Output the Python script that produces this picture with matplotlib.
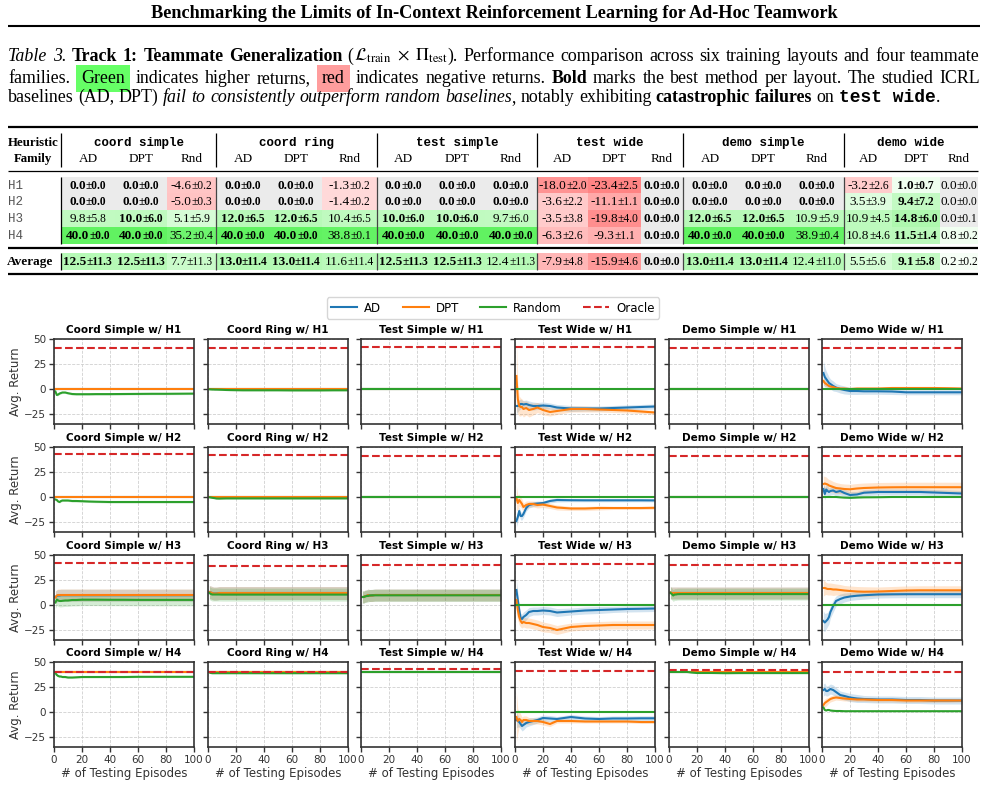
import numpy as np
import matplotlib
matplotlib.use("Agg")
import matplotlib.pyplot as plt
from matplotlib.lines import Line2D
from matplotlib.patches import Rectangle

plt.rcParams['mathtext.fontset'] = 'stix'
plt.rcParams['font.family'] = ['DejaVu Sans']

# ---------------------------------------------------------------- table data
TAB_LAYOUTS = ["coord simple", "coord ring", "test simple", "test wide", "demo simple", "demo wide"]
TAB_ROWS = ["H1", "H2", "H3", "H4"]
TAB_METHODS = ["AD", "DPT", "Rnd"]
TAB_AD_MEAN = [[0.0, 0.0, 9.8, 40.0], [0.0, 0.0, 12.0, 40.0], [0.0, 0.0, 10.0, 40.0],
               [-18.0, -3.6, -3.5, -6.3], [0.0, 0.0, 12.0, 40.0], [-3.2, 3.5, 10.9, 10.8]]
TAB_AD_STD = [[0.0, 0.0, 5.8, 0.0], [0.0, 0.0, 6.5, 0.0], [0.0, 0.0, 6.0, 0.0],
              [2.0, 2.2, 3.8, 2.6], [0.0, 0.0, 6.5, 0.0], [2.6, 3.9, 4.5, 4.6]]
TAB_DPT_MEAN = [[0.0, 0.0, 10.0, 40.0], [0.0, 0.0, 12.0, 40.0], [0.0, 0.0, 10.0, 40.0],
                [-23.4, -11.1, -19.8, -9.3], [0.0, 0.0, 12.0, 40.0], [1.0, 9.4, 14.8, 11.5]]
TAB_DPT_STD = [[0.0, 0.0, 6.0, 0.0], [0.0, 0.0, 6.5, 0.0], [0.0, 0.0, 6.0, 0.0],
               [2.5, 1.1, 4.0, 1.1], [0.0, 0.0, 6.5, 0.0], [0.7, 7.2, 6.0, 1.4]]
TAB_RND_MEAN = [[-4.6, -5.0, 5.1, 35.2], [-1.3, -1.4, 10.4, 38.8], [0.0, 0.0, 9.7, 40.0],
                [0.0, 0.0, 0.0, 0.0], [0.0, 0.0, 10.9, 38.9], [0.0, 0.0, 0.0, 0.8]]
TAB_RND_STD = [[0.2, 0.3, 5.9, 0.4], [0.2, 0.2, 6.5, 0.1], [0.0, 0.0, 6.0, 0.0],
               [0.0, 0.0, 0.0, 0.0], [0.0, 0.0, 5.9, 0.4], [0.0, 0.0, 0.1, 0.2]]
TAB_AVG_MEAN = [[12.5, 12.5, 7.7], [13.0, 13.0, 11.6], [12.5, 12.5, 12.4],
                [-7.9, -15.9, 0.0], [13.0, 13.0, 12.4], [5.5, 9.1, 0.2]]
TAB_AVG_STD = [[11.3, 11.3, 11.3], [11.4, 11.4, 11.4], [11.3, 11.3, 11.3],
               [4.8, 4.6, 0.0], [11.4, 11.4, 11.0], [5.6, 5.8, 0.2]]
# bold flags per layout: rows H1..H4, Average ; chars = AD, DPT, Rnd
TAB_BOLD = [["110", "110", "010", "110", "110"],
            ["110", "110", "110", "110", "110"],
            ["111", "111", "110", "111", "110"],
            ["001", "001", "001", "001", "001"],
            ["111", "111", "110", "110", "110"],
            ["010", "010", "010", "010", "010"]]

# ---------------------------------------------------------------- curve data
LAYOUTS = ["Coord Simple", "Coord Ring", "Test Simple", "Test Wide", "Demo Simple", "Demo Wide"]
FAMILIES = ["H1", "H2", "H3", "H4"]
EP = [1, 2, 3, 4, 5, 6, 8, 10, 13, 16, 20, 25, 30, 40, 50, 60, 70, 80, 90, 100]

ORACLE = [[41.3, 40.7, 41.7, 42.0, 40.7, 40.7],
          [42.7, 42.0, 40.7, 42.0, 40.7, 40.7],
          [41.7, 39.3, 39.7, 41.0, 40.3, 42.0],
          [40.3, 40.0, 42.7, 41.0, 41.7, 40.3]]

# ---- H1
AD_H1 = [0.0, 0.0, 0.0,
         [-17, -17, -16, -15, -15, -15.5, -15, -16, -17, -17, -16.5, -17, -18.5, -19.5, -19.5, -19.5, -19, -18.5, -18, -17.5],
         0.0,
         [16, 12, 10, 8, 6, 5, 3, 1.5, 0, -1, -2, -2, -2.3, -2.3, -2.5, -3.3, -3.3, -3.3, -3.3, -3.3]]
AD_H1_SD = [0.0, 0.0, 0.0,
            [8, 6, 5, 5, 4, 4, 4, 4, 4, 3.5, 3.5, 3, 3, 3, 2.5, 2.5, 2.5, 2.5, 2.5, 2.5],
            0.0,
            [12, 10, 8, 7, 6, 5, 5, 4, 4, 4, 3.5, 3.5, 3, 3, 3, 2.5, 2.5, 2.5, 2.5, 2.5]]
DPT_H1 = [0.0, 0.0, 0.0,
          [13, -10, -17, -18, -18, -20, -19, -21, -20, -18.5, -21, -23, -22, -20, -20, -20.5, -21, -21.5, -22.5, -23.5],
          0.0,
          [8, 6, 5, 4, 3, 2.5, 2, 1, 0.5, 0.5, 0, 0.5, 0.5, 0.5, 1, 1, 1, 1, 0.8, 0.5]]
DPT_H1_SD = [0.0, 0.0, 0.0,
             [35, 15, 10, 9, 8, 8, 7, 7, 6, 5, 5, 4, 3.5, 3, 3, 2.5, 2.5, 2.5, 2, 2],
             0.0,
             [4, 3, 3, 2, 2, 2, 1.5, 1.5, 1.5, 1, 1, 1, 1, 1, 1, 1, 1, 1, 1, 1]]
RND_H1 = [[-2.5, -6, -5.5, -4.5, -4, -3.5, -3.5, -4.2, -5, -5.2, -5.2, -5.2, -5.1, -5.1, -5.0, -4.9, -4.8, -4.8, -4.7, -4.6],
          [-0.3, -0.4, -0.5, -0.5, -0.6, -0.6, -0.7, -0.8, -1.0, -1.1, -1.2, -1.3, -1.3, -1.3, -1.3, -1.4, -1.4, -1.4, -1.3, -1.3],
          0.0, 0.0, 0.0, 0.0]
RND_H1_SD = [1.0, 0.5, 0.0, 0.0, 0.0, 0.0]

# ---- H2
AD_H2 = [0.0, 0.0, 0.0,
         [-24, -20, -14, -19, -19, -17, -11, -8, -7, -6.5, -6, -4, -3, -3.2, -3.3, -3.3, -3.3, -3.3, -3.3, -3.4],
         0.0,
         [8, 3, 7.5, 6, 5, 6, 6.5, 5, 6, 4, 2, 2.5, 4.3, 5, 5, 5, 5, 4.5, 4, 3.5]]
AD_H2_SD = [0.0, 0.0, 0.0,
            [6, 5, 4, 4, 4, 3.5, 3, 3, 2.5, 2.5, 2, 2, 2, 1.5, 1.5, 1.5, 1.5, 1.5, 1.5, 1.5],
            0.0,
            [6, 6, 5, 5, 4, 4, 4, 4, 4, 3.5, 3.5, 3, 3, 3, 3, 3, 3, 3, 3, 3]]
DPT_H2 = [0.0, 0.0, 0.0,
          [-1, -6, -3, -5, -7, -10, -8, -7, -7, -8, -7.5, -9, -10.5, -11.5, -11.5, -11, -11, -11, -11, -10.8],
          0.0,
          [13, 13.5, 13, 12.5, 11.5, 11, 10, 9, 8.5, 8, 7.7, 8.5, 9, 9.5, 9.7, 9.8, 9.8, 9.8, 9.8, 9.8]]
DPT_H2_SD = [0.0, 0.0, 0.0,
             [12, 8, 6, 5, 5, 4, 4, 3, 3, 3, 3, 2.5, 2.5, 2, 2, 2, 1.5, 1.5, 1.5, 1.5],
             0.0,
             [8, 7, 7, 6, 6, 6, 5.5, 5.5, 5, 5, 5, 5, 5, 5, 5, 5, 5, 5, 5, 5]]
RND_H2 = [[-2.5, -3, -4.5, -5, -4, -3.5, -3.5, -3.5, -4, -4, -4.2, -4.5, -4.7, -5, -5, -5, -5, -5, -5, -5],
          [-0.3, -0.5, -0.8, -1, -1.2, -1.5, -1.6, -1.5, -1.4, -1.4, -1.4, -1.4, -1.4, -1.4, -1.4, -1.4, -1.4, -1.4, -1.4, -1.4],
          0.0, 0.0, 0.0,
          [0, 0, 0, 0, 0, 0, 0, 0, -0.3, -0.6, -0.8, -0.5, -0.3, -0.2, 0, 0, 0, 0, 0, 0]]
RND_H2_SD = [1.0, 0.6, 0.0, 0.0, 0.0, 0.5]

# ---- H3
AD_H3 = [[8, 9, 9.5, 9.5, 9.8, 9.8, 9.8, 9.8, 9.8, 9.8, 9.8, 9.8, 9.8, 9.8, 9.8, 9.8, 9.8, 9.8, 9.8, 9.8],
         [13, 12.5, 12, 11.5, 11.5, 11.5, 12, 12, 12, 12, 12, 12, 12, 12, 12, 12, 12, 12, 12, 12],
         [8, 8, 9, 9, 10, 9.5, 9.5, 10, 10, 10, 10, 10, 10, 10, 10, 10, 10, 10, 10, 10],
         [15, 5, -5, -13, -14, -12, -10, -7, -6, -6, -5.5, -6, -7.5, -6.5, -5.5, -5, -4.5, -4, -3.8, -3.5],
         [12.5, 12, 12, 12, 12, 12, 12, 12, 12, 12, 12, 12, 12, 12, 12, 12, 12, 12, 12, 12],
         [-16, -17.5, -16, -14.5, -12, -7, -1, 4, 6, 7.5, 8.5, 9.3, 9.8, 10.5, 10.7, 10.8, 10.8, 10.8, 10.8, 10.8]]
AD_H3_SD = [6.0, 6.5, 6.0,
            [10, 8, 6, 5, 5, 5, 5, 4.5, 4, 4, 4, 4, 4, 3.5, 3.5, 3.5, 3, 3, 3, 3],
            6.0,
            [10, 9, 8, 7, 7, 6, 6, 5, 5, 4.5, 4, 4, 4, 3.5, 3.5, 3.5, 3.5, 3.5, 3.5, 3.5]]
DPT_H3 = [[7.5, 9.5, 10, 10, 10, 10, 10, 10, 10, 10, 10, 10, 10, 10, 10, 10, 10, 10, 10, 10],
          [13, 12.5, 12, 11.5, 11.5, 11.5, 12, 12, 12, 12, 12, 12, 12, 12, 12, 12, 12, 12, 12, 12],
          [8, 8, 9, 9, 10, 9.5, 9.5, 10, 10, 10, 10, 10, 10, 10, 10, 10, 10, 10, 10, 10],
          [5, -5, -12, -16, -18, -17, -18, -18, -19, -20, -22, -23, -25, -22, -21, -20.5, -20, -20, -20, -20],
          [12.5, 12, 12, 12, 12, 12, 12, 12, 12, 12, 12, 12, 12, 12, 12, 12, 12, 12, 12, 12],
          [17, 17, 16.5, 16, 16, 16, 15.5, 15.5, 15, 14.5, 14, 13.5, 13.3, 13.5, 14, 14.5, 14.7, 14.7, 14.7, 14.7]]
DPT_H3_SD = [6.0, 6.5, 6.0,
             [15, 10, 8, 6, 5, 5, 5, 5, 5, 5, 5, 4.5, 4.5, 4, 4, 4, 4, 4, 4, 4],
             6.0,
             [8, 7, 6, 6, 6, 6, 6, 5.5, 5.5, 5, 5, 5, 5, 4.5, 4.5, 4.5, 4.5, 4.5, 4.5, 4.5]]
RND_H3 = [[2.5, 5.5, 4.5, 4, 4, 4.2, 4.5, 4.5, 5, 5, 5.3, 5.3, 5.3, 5.2, 5.2, 5.1, 5.1, 5.1, 5.1, 5.1],
          [12, 11, 10.5, 10.5, 10.5, 10.5, 10.5, 10.4, 10.4, 10.4, 10.4, 10.4, 10.4, 10.4, 10.4, 10.4, 10.4, 10.4, 10.4, 10.4],
          [8, 8, 8.5, 9, 9, 9.5, 9.7, 9.7, 9.7, 9.7, 9.7, 9.7, 9.7, 9.7, 9.7, 9.7, 9.7, 9.7, 9.7, 9.7],
          0.0,
          [12, 11, 9.5, 10.5, 10.5, 10.8, 10.9, 10.9, 10.9, 10.9, 10.9, 10.9, 10.9, 10.9, 10.9, 10.9, 10.9, 10.9, 10.9, 10.9],
          0.0]
RND_H3_SD = [5.9, 6.5, 6.0, 0.0, 5.9, 0.0]

# ---- H4
AD_H4 = [40.0, 40.0, 40.0,
         [-8, -9, -10, -12, -14, -13, -11, -10, -9, -8, -6, -6.5, -7, -5, -6.5, -7, -6.5, -6.5, -6.3, -6.3],
         40.0,
         [22, 23, 21, 21, 22, 23, 22, 20, 17, 16, 14.5, 13.5, 13, 12.5, 12.5, 12, 12, 11.5, 11.5, 11.5]]
AD_H4_SD = [0.0, 0.0, 0.0,
            [8, 6, 5, 5, 5, 5, 4, 4, 3.5, 3, 3, 3, 2.5, 2.5, 2.5, 2.5, 2.5, 2.5, 2.5, 2.5],
            0.0,
            [6, 6, 5, 5, 5, 5, 5, 4.5, 4, 4, 4, 4, 3.5, 3.5, 3.5, 3.5, 3.5, 3.5, 3.5, 3.5]]
DPT_H4 = [40.0, 40.0, 40.0,
          [-5, -9, -7, -8, -10, -8, -8, -9, -9, -9, -10, -12, -9, -9, -9.5, -9.5, -9.5, -9.5, -10, -10],
          40.0,
          [7, 9, 10, 11, 12, 13, 14, 14.5, 14, 13.5, 13, 12.5, 12.5, 12, 12, 11.5, 11.5, 11.5, 11.5, 11.5]]
DPT_H4_SD = [0.0, 0.0, 0.0,
             [25, 12, 8, 6, 5, 4, 4, 3.5, 3, 3, 3, 2.5, 2, 2, 1.5, 1.5, 1.5, 1.5, 1.5, 1.5],
             0.0,
             [4, 4, 4, 3.5, 3, 3, 3, 2.5, 2.5, 2.5, 2, 2, 2, 2, 2, 2, 2, 2, 2, 1.5]]
RND_H4 = [[39, 37, 36, 35.5, 35.5, 35, 35, 34.5, 34.5, 34.7, 35, 35, 35, 35, 35, 35.2, 35.2, 35.2, 35.2, 35.2],
          [39.5, 39, 38.8, 38.8, 38.8, 38.8, 38.8, 38.8, 38.8, 38.8, 38.8, 38.8, 38.8, 38.8, 38.8, 38.8, 38.8, 38.8, 38.8, 38.8],
          40.0, 0.0,
          [40, 40, 40, 40, 40, 40, 40, 40, 40, 39.5, 39, 39, 39, 38.8, 38.9, 38.9, 38.9, 38.9, 38.9, 38.9],
          [4.5, 2, 1.5, 2, 2, 1.5, 1.2, 1, 1, 0.8, 0.8, 0.8, 0.8, 0.8, 0.8, 0.8, 0.8, 0.8, 0.8, 0.8]]
RND_H4_SD = [0.8, 0.5, 0.0, 0.0, 0.4, 0.3]

AD_MEANS = [AD_H1, AD_H2, AD_H3, AD_H4]
AD_SDS = [AD_H1_SD, AD_H2_SD, AD_H3_SD, AD_H4_SD]
DPT_MEANS = [DPT_H1, DPT_H2, DPT_H3, DPT_H4]
DPT_SDS = [DPT_H1_SD, DPT_H2_SD, DPT_H3_SD, DPT_H4_SD]
RND_MEANS = [RND_H1, RND_H2, RND_H3, RND_H4]
RND_SDS = [RND_H1_SD, RND_H2_SD, RND_H3_SD, RND_H4_SD]

# ---------------------------------------------------------------- figure
W, H = 988, 793
fig = plt.figure(figsize=(W / 100, H / 100), dpi=100)
fig.patch.set_facecolor('white')
renderer = fig.canvas.get_renderer()


def fx(px):
    return px / W


def fy(py):
    return 1 - py / H


SERIF = 'Liberation Serif'
MONO = 'Liberation Mono'


def props(kind, size):
    if kind == 'm':
        return dict(family=MONO, fontsize=size, fontweight='bold')
    d = dict(family=SERIF, fontsize=size)
    if kind == 'b':
        d['fontweight'] = 'bold'
    elif kind == 'i':
        d['fontstyle'] = 'italic'
    return d


def measure(s, p):
    t = fig.text(0, 0, s, **p)
    w = t.get_window_extent(renderer=renderer).width
    t.remove()
    return w


def hline(x0, x1, y, lw):
    fig.add_artist(Line2D([fx(x0), fx(x1)], [fy(y), fy(y)], transform=fig.transFigure,
                          color='black', lw=lw, solid_capstyle='butt'))


def vline(x, y0, y1, lw=0.9, color='black'):
    fig.add_artist(Line2D([fx(x), fx(x)], [fy(y0), fy(y1)], transform=fig.transFigure,
                          color=color, lw=lw, solid_capstyle='butt'))


def rect(x0, y0, x1, y1, color):
    fig.add_artist(Rectangle((fx(x0), fy(y1)), (x1 - x0) / W, (y1 - y0) / H,
                             transform=fig.transFigure, fc=color, ec='none', zorder=0))


# ---- title
title = "Benchmarking the Limits of In-Context Reinforcement Learning for Ad-Hoc Teamwork"
tsize = 12 * 683 / measure(title, props('b', 12))
fig.text(fx(494), fy(18), title, ha='center', va='baseline', **props('b', tsize))
hline(8, 980, 26, 1.5)

# ---- caption (word based, justified)
BOXPAD_F = 0.3
MATH = r"$\mathcal{L}_{\mathrm{train}}\ \times\ \Pi_{\mathrm{test}}$"


def words_of(text, kind):
    return [[(w, kind)] for w in text.split(' ')]


line1 = ([[("Table", 'i')], [("3.", 'i')]] + words_of("Track 1: Teammate Generalization", 'b')
         + [[("(", 'r'), (MATH, 'r'), (").", 'r')]]
         + words_of("Performance comparison across six training layouts and four teammate", 'r'))
line2 = ([[("families.", 'r')], [("Green", 'r', '#66ff66')]]
         + words_of("indicates higher returns,", 'r') + [[("red", 'r', '#ff9d9d')]]
         + words_of("indicates negative returns.", 'r') + [[("Bold", 'b')]]
         + words_of("marks the best method per layout. The studied ICRL", 'r'))
line3 = (words_of("baselines (AD, DPT)", 'r')
         + words_of("fail to consistently outperform random", 'i')
         + [[("baselines", 'i'), (",", 'r')]]
         + words_of("notably exhibiting", 'r') + words_of("catastrophic failures", 'b')
         + [[("on", 'r')], [("test wide", 'm'), (".", 'r')]])


def word_width(word, size):
    w = 0
    for piece in word:
        w += measure(piece[0], props(piece[1], size))
        if len(piece) > 2:
            w += 2 * BOXPAD_F * size * 100 / 72
    return w


def natural_width(words, size):
    sp = measure("a a", props('r', size)) - measure("aa", props('r', size))
    return sum(word_width(w, size) for w in words) + sp * (len(words) - 1)


def draw_line(words, x0, y, size, width=None):
    widths = [word_width(w, size) for w in words]
    sp = measure("a a", props('r', size)) - measure("aa", props('r', size))
    gap = sp if width is None else (width - sum(widths)) / (len(words) - 1)
    x = x0
    for word, ww in zip(words, widths):
        xx = x
        for piece in word:
            boxed = len(piece) > 2
            pad = BOXPAD_F * size * 100 / 72
            if boxed:
                xx += pad
            t = fig.text(fx(xx), fy(y), piece[0], ha='left', va='baseline', **props(piece[1], size))
            if boxed:
                t.set_bbox(dict(boxstyle='square,pad=%.2f' % BOXPAD_F, fc=piece[2], ec='none'))
            xx += measure(piece[0], props(piece[1], size))
            if boxed:
                xx += pad
        x += ww + gap


csize = 11.5 * 929 / natural_width(line3, 11.5)
draw_line(line1, 8, 61, csize, 972)
draw_line(line2, 8, 83, csize, 972)
draw_line(line3, 8, 102, csize)

# ---- table
GROUP_X = [61, 216, 377, 537, 683, 844, 978]
CELL_X = [61, 115, 167, 216, 270, 322, 377, 430, 485, 537, 588, 641, 683, 737, 790,
          844, 892, 940, 978]
ROW_Y = [(177, 193.5), (193.5, 210), (210, 227), (227, 244)]
AVG_Y = (253, 270)


def cell_color(v):
    if v == 0:
        return '#ebebeb'
    if v > 0:
        t = min(v / 40.0, 1.0) ** 0.7
        a = 0.03 + 0.97 * t
        g = np.array([0.38, 0.95, 0.38])
    else:
        t = min(-v / 25.0, 1.0) ** 0.6
        a = 0.15 + 0.85 * t
        g = np.array([1.0, 0.5, 0.5])
    return tuple(np.ones(3) * (1 - a) + g * a)


def cell_text(xc, yb, mean, std, bold):
    k = 'b' if bold else 'r'
    s1 = "%.1f" % mean
    s2 = "±%.1f" % std
    p1 = props(k, 9.5)
    p2 = props(k, 8.3)
    w1 = measure(s1, p1)
    w2 = measure(s2, p2)
    x0 = xc - (w1 + w2) / 2
    fig.text(fx(x0), fy(yb), s1, ha='left', va='baseline', **p1)
    fig.text(fx(x0 + w1), fy(yb), s2, ha='left', va='baseline', **p2)


hline(8, 978, 127, 1.6)
hline(8, 978, 171, 0.9)
hline(8, 978, 247.5, 1.6)
hline(8, 978, 274, 1.6)

fig.text(fx(33), fy(146), "Heuristic", ha='center', va='baseline', **props('b', 9.3))
fig.text(fx(33), fy(162), "Family", ha='center', va='baseline', **props('b', 9.3))
vline(61, 133, 167)

for gi, lay in enumerate(TAB_LAYOUTS):
    gx0, gx1 = GROUP_X[gi], GROUP_X[gi + 1]
    fig.text(fx((gx0 + gx1) / 2), fy(146), lay, ha='center', va='baseline', **props('m', 9))
    cells = CELL_X[3 * gi: 3 * gi + 4]
    for mi, mname in enumerate(TAB_METHODS):
        fig.text(fx((cells[mi] + cells[mi + 1]) / 2), fy(162), mname, ha='center',
                 va='baseline', **props('r', 9.5))
    if gi < 5:
        vline(gx1, 133, 167)
    means = [TAB_AD_MEAN[gi], TAB_DPT_MEAN[gi], TAB_RND_MEAN[gi]]
    stds = [TAB_AD_STD[gi], TAB_DPT_STD[gi], TAB_RND_STD[gi]]
    for ri in range(4):
        y0, y1 = ROW_Y[ri]
        for mi in range(3):
            cx0, cx1 = cells[mi], cells[mi + 1]
            rect(cx0, y0, cx1, y1, cell_color(means[mi][ri]))
            cell_text((cx0 + cx1) / 2, (y0 + y1) / 2 + 3.5, means[mi][ri], stds[mi][ri],
                      TAB_BOLD[gi][ri][mi] == '1')
    for mi in range(3):
        cx0, cx1 = cells[mi], cells[mi + 1]
        rect(cx0, AVG_Y[0], cx1, AVG_Y[1], cell_color(TAB_AVG_MEAN[gi][mi]))
        cell_text((cx0 + cx1) / 2, (AVG_Y[0] + AVG_Y[1]) / 2 + 3.5, TAB_AVG_MEAN[gi][mi],
                  TAB_AVG_STD[gi][mi], TAB_BOLD[gi][4][mi] == '1')
    if gi < 5:
        vline(gx1, 177, 244, lw=0.9, color='#444444')
        vline(gx1, 253, 270, lw=0.9, color='#444444')

vline(61, 177, 244)
vline(61, 253, 270)
for ri, lab in enumerate(TAB_ROWS):
    y0, y1 = ROW_Y[ri]
    fig.text(fx(8), fy((y0 + y1) / 2 + 3.5), lab, ha='left', va='baseline', color='#555555',
             family=MONO, fontsize=9)
fig.text(fx(7), fy((AVG_Y[0] + AVG_Y[1]) / 2 + 3.5), "Average", ha='left', va='baseline',
         **props('b', 9.5))

# ---- subplot grid
LEFTS = [54, 208, 361, 515, 669, 822]
TOPS = [339, 447, 555, 662]
AW, AH = 140, 85
COLORS = {'AD': '#1f77b4', 'DPT': '#ff7f0e', 'Random': '#2ca02c', 'Oracle': '#d62728'}
SERIES = [('AD', AD_MEANS, AD_SDS), ('DPT', DPT_MEANS, DPT_SDS), ('Random', RND_MEANS, RND_SDS)]
ep = np.array(EP, dtype=float)


def as_arr(v):
    if np.isscalar(v):
        return np.full(len(ep), float(v))
    return np.array(v, dtype=float)


for r in range(4):
    for c in range(6):
        ax = fig.add_axes([fx(LEFTS[c]), fy(TOPS[r] + AH), AW / W, AH / H])
        for name, means, sds in SERIES:
            m = as_arr(means[r][c])
            s = as_arr(sds[r][c])
            col = COLORS[name]
            ax.fill_between(ep, m - s, m + s, color=col, alpha=0.2, lw=0)
            ax.plot(ep, m, color=col, lw=1.5)
        ax.axhline(ORACLE[r][c], color=COLORS['Oracle'], ls='--', lw=1.5)
        ax.set_xlim(0, 100)
        ax.set_ylim(-35, 50)
        ax.set_xticks([0, 20, 40, 60, 80, 100])
        ax.set_yticks([-25, 0, 25, 50])
        ax.grid(True, ls='--', lw=0.6, color='#d0d0d0')
        ax.set_axisbelow(True)
        for sp in ax.spines.values():
            sp.set_color('#333333')
            sp.set_linewidth(1.2)
        ax.tick_params(labelsize=7.5, labelcolor='#333333', length=3.5, width=1, color='#333333',
                       pad=2)
        ax.set_title(f"{LAYOUTS[c]} w/ {FAMILIES[r]}", fontsize=7.5, fontweight='bold', pad=4)
        if c == 0:
            ax.set_ylabel("Avg. Return", fontsize=8.5, color='#333333', labelpad=2)
        else:
            ax.tick_params(labelleft=False)
        if r == 3:
            ax.set_xlabel("# of Testing Episodes", fontsize=8.5, color='#333333', labelpad=2)
        else:
            ax.tick_params(labelbottom=False)

handles = [Line2D([], [], color=COLORS['AD'], lw=1.5),
           Line2D([], [], color=COLORS['DPT'], lw=1.5),
           Line2D([], [], color=COLORS['Random'], lw=1.5),
           Line2D([], [], color=COLORS['Oracle'], lw=1.5, ls='--')]
leg = fig.legend(handles, ['AD', 'DPT', 'Random', 'Oracle'], loc='center',
                 bbox_to_anchor=(fx(493), fy(308)), ncol=4, fontsize=8.5, frameon=True,
                 edgecolor='#cccccc', handlelength=2.2, columnspacing=1.8, borderpad=0.35,
                 handletextpad=0.6)

fig.savefig("out.png", dpi=100)
